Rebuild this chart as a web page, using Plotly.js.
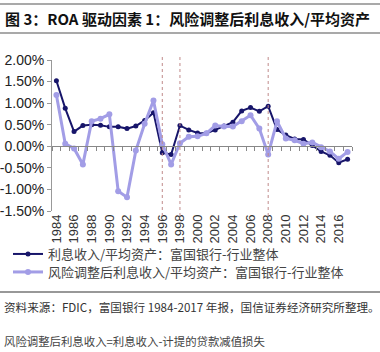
<!DOCTYPE html>
<html>
<head>
<meta charset="utf-8">
<script src="https://cdn.plot.ly/plotly-3.0.1.min.js"></script>
<style>html,body{margin:0;padding:0;background:#fff;}#chart{width:380px;height:352px;}</style>
</head>
<body>
<div id="chart"></div>
<script>
const years = [1984,1985,1986,1987,1988,1989,1990,1991,1992,1993,1994,1995,1996,1997,1998,1999,2000,2001,2002,2003,2004,2005,2006,2007,2008,2009,2010,2011,2012,2013,2014,2015,2016,2017];
const interestIncome = [1.52,0.88,0.34,0.48,0.50,0.49,0.45,0.45,0.41,0.47,0.60,0.78,-0.15,-0.19,0.48,0.38,0.31,0.30,0.38,0.47,0.56,0.82,0.90,0.81,0.93,0.39,0.26,0.17,0.16,0.02,-0.12,-0.21,-0.38,-0.30];
const riskAdjIncome = [1.19,0.06,-0.05,-0.42,0.58,0.64,0.74,-1.04,-1.18,-0.10,0.52,1.06,0.05,-0.42,0.07,0.22,0.23,0.30,0.48,0.46,0.46,0.58,0.72,0.41,-0.19,0.58,0.18,0.14,0.06,0.09,-0.02,-0.12,-0.29,-0.13];
const markerYears = [1996,1998,2008];
const yTickVals = [2.0,1.5,1.0,0.5,0.0,-0.5,-1.0,-1.5];
const yTickText = ['2.00%','1.50%','1.00%','0.50%','0.00%','-0.50%','-1.00%','-1.50%'];
const name1 = '利息收入/平均资产：富国银行-行业整体';
const name2 = '风险调整后利息收入/平均资产：富国银行-行业整体';
const titleText = '<b>图 3：ROA 驱动因素 1：风险调整后利息收入/平均资产</b>';
const sourceText = '资料来源：FDIC，富国银行 1984-2017 年报，国信证券经济研究所整理。';
const noteText = '风险调整后利息收入=利息收入-计提的贷款减值损失';

const W = 380, H = 352, L = 52, R = 28, T = 60, B = 141;
const pw = W - L - R, ph = H - T - B;
const xp = px => (px - L) / pw;
const yp = py => (H - B - py) / ph;
const yMin = -1.5, yMax = 2.0;
const zeroPos = (0 - yMin) / (yMax - yMin);
const cjk = '"Noto Sans CJK SC", "Liberation Sans", sans-serif';
const arial = '"Liberation Sans", Arial, sans-serif';

const traces = [
  {x: years, y: interestIncome, name: name1, type: 'scatter', mode: 'lines+markers', legend: 'legend',
   line: {color: '#17156a', width: 2}, marker: {color: '#17156a', size: 5}},
  {x: years, y: riskAdjIncome, name: name2, type: 'scatter', mode: 'lines+markers', legend: 'legend2',
   line: {color: '#a29de6', width: 3}, marker: {color: '#a29de6', size: 6}},
  {x: years, y: interestIncome, xaxis: 'x2', yaxis: 'y', mode: 'none', showlegend: false, hoverinfo: 'skip'}
];

const shapes = markerYears.map(yr => ({
  type: 'line', xref: 'x', yref: 'paper', x0: yr, x1: yr, y0: yp(216), y1: yp(57),
  line: {color: '#c08a8a', width: 1, dash: 'dot'}
}));
shapes.push({type: 'line', xref: 'paper', yref: 'paper', x0: xp(0), x1: xp(380), y0: yp(4), y1: yp(4), line: {color: '#555', width: 1.2}});
shapes.push({type: 'line', xref: 'paper', yref: 'paper', x0: xp(0), x1: xp(380), y0: yp(33), y1: yp(33), line: {color: '#555', width: 1.2}});
shapes.push({type: 'line', xref: 'paper', yref: 'paper', x0: xp(0), x1: xp(380), y0: yp(292), y1: yp(292), line: {color: '#333', width: 1.2}});

const legendBase = {xref: 'container', yref: 'container', x: 8 / W, xanchor: 'left', yanchor: 'middle',
  font: {family: cjk, size: 13, color: '#444'}, itemwidth: 30, bgcolor: 'rgba(0,0,0,0)'};

const layout = {
  width: W, height: H,
  margin: {l: L, r: R, t: T, b: B, pad: 0, autoexpand: false},
  paper_bgcolor: '#fff', plot_bgcolor: '#fff',
  showlegend: true,
  legend: Object.assign({}, legendBase, {y: 1 - 254 / H}),
  legend2: Object.assign({}, legendBase, {y: 1 - 272 / H}),
  xaxis: {type: 'linear', range: [years[0] - 0.5, years[years.length-1] + 0.5], tick0: 1984, dtick: 2,
          tickangle: -90, ticks: '', showline: false, showgrid: false, zeroline: false, automargin: false,
          tickfont: {family: arial, size: 13, color: '#333'}},
  xaxis2: {type: 'linear', overlaying: 'x', anchor: 'free', position: zeroPos, side: 'bottom',
           range: [years[0] - 0.5, years[years.length-1] + 0.5], tick0: years[0] + 0.5, dtick: 1,
           ticks: 'outside', ticklen: 4, tickcolor: '#888', showticklabels: false, showline: true,
           linecolor: '#888', linewidth: 1, showgrid: false, zeroline: false, automargin: false},
  yaxis: {range: [yMin, yMax], tickvals: yTickVals, ticktext: yTickText, ticks: 'outside', ticklen: 4,
          tickcolor: '#999', showline: true, linecolor: '#999', linewidth: 1, showgrid: false, zeroline: false,
          automargin: false, tickfont: {family: arial, size: 14, color: '#222'}},
  shapes: shapes,
  annotations: [
    {xref: 'paper', yref: 'paper', x: xp(3), y: yp(19), xanchor: 'left', yanchor: 'middle', showarrow: false,
     text: titleText, font: {family: cjk, size: 15, color: '#111'}},
    {xref: 'paper', yref: 'paper', x: xp(2), y: yp(307), xanchor: 'left', yanchor: 'middle', showarrow: false,
     text: sourceText, font: {family: cjk, size: 11.6, color: '#333'}},
    {xref: 'paper', yref: 'paper', x: xp(2), y: yp(341), xanchor: 'left', yanchor: 'middle', showarrow: false,
     text: noteText, font: {family: cjk, size: 11.4, color: '#444'}}
  ]
};
Plotly.newPlot('chart', traces, layout, {displayModeBar: false, staticPlot: true});
</script>
</body>
</html>
